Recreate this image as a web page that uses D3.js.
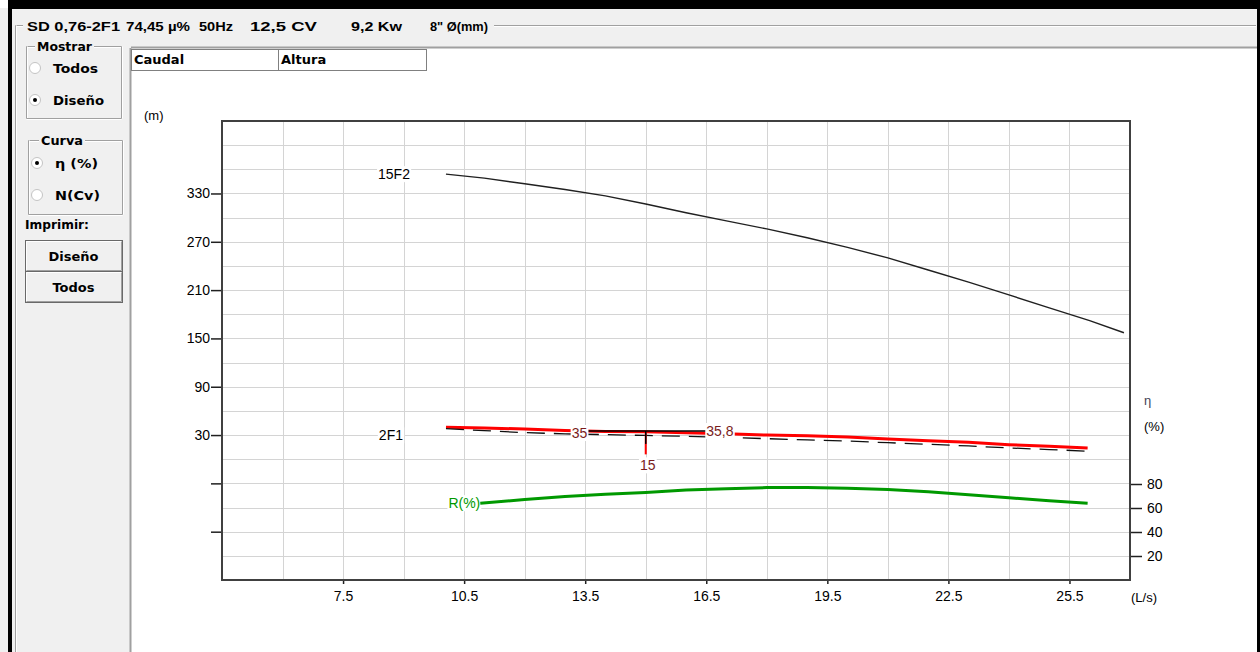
<!DOCTYPE html>
<html lang="es">
<head>
<meta charset="UTF-8">
<title>SD 0,76-2F1</title>
<style>
  body { margin: 0; background: #fff; }
  svg { display: block; }
  .ui { font-family: 'DejaVu Sans', sans-serif; font-weight: bold; font-size: 13px; fill: #000; }
  .hd { font-family: 'Liberation Sans', Arial, sans-serif; font-weight: bold; font-size: 13px; fill: #000; }
  .lbl { font-family: 'Liberation Sans', Arial, sans-serif; font-size: 14px; fill: #000; }
  .axis text { font-family: 'Liberation Sans', Arial, sans-serif; font-size: 14px; fill: #000; }
  .axis line { stroke: #202020; stroke-width: 1.5; }
  .axis path { display: none; }
</style>
<script src="https://d3js.org/d3.v7.min.js"></script>
</head>
<body>
<div id="chart"></div>
<script>
// ---- datos ----
const qTicks = [7.5, 10.5, 13.5, 16.5, 19.5, 22.5, 25.5];
const hTicks = [-90, -30, 30, 90, 150, 210, 270, 330];
const etaTicks = [20, 40, 60, 80];

// curva 15F2
const q15F2 = [10.05, 11, 12, 13, 14, 15, 16, 17, 18, 19, 20, 21, 22, 23, 24, 25, 26, 26.85];
const h15F2 = [354, 349, 342, 335, 327, 317, 306, 296, 286, 275, 263, 250, 235, 220, 204, 188, 172, 157];

// curva 2F1 (roja) y curva de diseño (negra punteada)
const q2F1 = [10.05, 11, 12, 13, 14, 15, 16, 17, 18, 19, 20, 21, 22, 23, 24, 25, 25.95];
const h2F1 = [39.6, 38.8, 37.5, 35.8, 34.5, 34, 33, 31.5, 30, 29, 27.5, 25, 23, 21, 18, 16, 13.8];
const hDesign = [38, 35.5, 33, 31.5, 30.5, 29.5, 28.5, 27, 25.5, 24, 22.5, 20.5, 18.5, 16.5, 14, 12, 10];

// rendimiento R(%)
const qEta = [10.9, 12, 13, 14, 15, 16, 17, 18, 19, 20, 21, 22, 23, 24, 25, 25.95];
const eta = [64, 67, 69.5, 71.5, 73, 75, 76, 77, 77, 76.5, 75.5, 73.5, 71, 68.5, 66, 64];

// punto de trabajo
const designQ = 15;
const designH = 35;
const designHLabel = "35";
const actualHLabel = "35,8";
const designQLabel = "15";

const headerParts = [
  { t: "SD 0,76-2F1", x: 27, w: 93 },
  { t: "74,45 µ%", x: 126, w: 64 },
  { t: "50Hz", x: 199, w: 34 },
  { t: "12,5 CV", x: 250, w: 67 },
  { t: "9,2 Kw", x: 351, w: 51 },
  { t: "8\" Ø(mm)", x: 430, w: 58 }
];

const svg = d3.select("#chart").append("svg")
  .attr("width", 1260).attr("height", 652);

// ---- ventana ----
svg.append("rect").attr("x", 0).attr("y", 0).attr("width", 1260).attr("height", 652).attr("fill", "#f0f0f0");
svg.append("rect").attr("x", 131).attr("y", 48).attr("width", 1126).attr("height", 604).attr("fill", "#fff");
svg.append("line").attr("x1", 130.5).attr("x2", 130.5).attr("y1", 48).attr("y2", 652).attr("stroke", "#a0a0a0").attr("stroke-width", 2);
svg.append("line").attr("x1", 131).attr("x2", 1257).attr("y1", 47.5).attr("y2", 47.5).attr("stroke", "#a0a0a0").attr("stroke-width", 2);
// bordes negros
svg.append("rect").attr("x", 0).attr("y", 0).attr("width", 8).attr("height", 8).attr("fill", "#fff");
svg.append("rect").attr("x", 8).attr("y", 0).attr("width", 1252).attr("height", 9).attr("fill", "#000");
svg.append("rect").attr("x", 8).attr("y", 9).attr("width", 4).attr("height", 643).attr("fill", "#000");
svg.append("rect").attr("x", 1257).attr("y", 0).attr("width", 3).attr("height", 652).attr("fill", "#000");

// lineas grabadas
const etched = (x1, y1, x2, y2) => {
  svg.append("line").attr("x1", x1).attr("y1", y1).attr("x2", x2).attr("y2", y2).attr("stroke", "#a0a0a0");
  svg.append("line").attr("x1", x1 + (x1 === x2 ? 1 : 0)).attr("y1", y1 + (y1 === y2 ? 1 : 0))
    .attr("x2", x2 + (x1 === x2 ? 1 : 0)).attr("y2", y2 + (y1 === y2 ? 1 : 0)).attr("stroke", "#fff");
};
etched(15.5, 25.5, 23, 25.5);
etched(494, 25.5, 1256, 25.5);
etched(15.5, 25.5, 15.5, 652);

headerParts.forEach(p => {
  svg.append("text").attr("class", "hd").attr("x", p.x).attr("y", 31)
    .attr("textLength", p.w).attr("lengthAdjust", "spacingAndGlyphs").text(p.t);
});

function groupBox(x, y, w, h, title, tx, tw) {
  etched(x + 0.5, y + 0.5, tx - 2, y + 0.5);
  etched(tx + tw + 2, y + 0.5, x + w + 0.5, y + 0.5);
  etched(x + 0.5, y + 0.5, x + 0.5, y + h + 0.5);
  etched(x + w + 0.5, y + 0.5, x + w + 0.5, y + h + 0.5);
  etched(x + 0.5, y + h + 0.5, x + w + 0.5, y + h + 0.5);
  svg.append("text").attr("class", "ui").attr("x", tx).attr("y", y + 5)
    .attr("textLength", tw).attr("lengthAdjust", "spacingAndGlyphs").text(title);
}
function radio(cx, cy, label, checked, w) {
  svg.append("circle").attr("cx", cx).attr("cy", cy).attr("r", 5.5)
    .attr("fill", "#fff").attr("stroke", "#c4c4c4");
  if (checked) svg.append("circle").attr("cx", cx).attr("cy", cy).attr("r", 2).attr("fill", "#000");
  svg.append("text").attr("class", "ui").attr("x", cx + 18).attr("y", cy + 5)
    .attr("textLength", w).attr("lengthAdjust", "spacingAndGlyphs").text(label);
}
function button(x, y, w, h, label) {
  svg.append("rect").attr("x", x + 0.5).attr("y", y + 0.5).attr("width", w).attr("height", h)
    .attr("fill", "#f0f0f0").attr("stroke", "#696969");
  svg.append("path").attr("d", `M${x + 1.5},${y + h - 1}V${y + 1.5}H${x + w - 1}`)
    .attr("fill", "none").attr("stroke", "#fff");
  svg.append("path").attr("d", `M${x + 1.5},${y + h - 0.5}H${x + w - 0.5}V${y + 1.5}`)
    .attr("fill", "none").attr("stroke", "#a0a0a0");
  svg.append("text").attr("class", "ui").attr("x", x + w / 2).attr("y", y + h / 2 + 5)
    .attr("text-anchor", "middle").text(label);
}

// grupo "Mostrar"
groupBox(26, 46, 95, 72, "Mostrar", 37, 55);
radio(35, 68, "Todos", false, 45);
radio(35, 100, "Diseño", true, 51);

// grupo "Curva"
groupBox(28, 140, 94, 74, "Curva", 41, 42);
radio(37, 163, "η (%)", true, 43);
radio(37, 195, "N(Cv)", false, 45);

svg.append("text").attr("class", "ui").attr("x", 25).attr("y", 229)
  .attr("textLength", 64).attr("lengthAdjust", "spacingAndGlyphs").text("Imprimir:");
button(25, 240, 97, 31, "Diseño");
button(25, 271, 97, 31, "Todos");

// caja Caudal / Altura
svg.append("rect").attr("x", 131.5).attr("y", 49.5).attr("width", 295).attr("height", 21)
  .attr("fill", "#fff").attr("stroke", "#808080");
svg.append("line").attr("x1", 278.5).attr("x2", 278.5).attr("y1", 50).attr("y2", 70).attr("stroke", "#808080");
svg.append("text").attr("class", "ui").attr("x", 134).attr("y", 64).text("Caudal");
svg.append("text").attr("class", "ui").attr("x", 281).attr("y", 64).text("Altura");

// ---- gráfico ----
const pLeft = 222, pRight = 1130, pTop = 121, pBottom = 580;
const x = d3.scaleLinear().domain([4.5, 27]).range([pLeft, pRight]);
const y = d3.scaleLinear().domain([-150, 420]).range([pBottom, pTop]);
const yEta = d3.scaleLinear().domain([0, 100]).range([pBottom, pBottom - 120]);

const grid = svg.append("g").attr("stroke", "#d4d4d4").attr("stroke-width", 1);
grid.selectAll(".gx").data(d3.range(6, 27, 1.5)).join("line")
  .attr("class", "gx")
  .attr("x1", d => Math.round(x(d)) + 0.5).attr("x2", d => Math.round(x(d)) + 0.5)
  .attr("y1", pTop).attr("y2", pBottom);
grid.selectAll(".gy").data(d3.range(-120, 420, 30)).join("line")
  .attr("class", "gy")
  .attr("y1", d => Math.round(y(d)) + 0.5).attr("y2", d => Math.round(y(d)) + 0.5)
  .attr("x1", pLeft).attr("x2", pRight);

svg.append("g").attr("class", "axis")
  .attr("transform", `translate(${pLeft},0)`)
  .call(d3.axisLeft(y).tickValues(hTicks).tickSize(11).tickPadding(1)
    .tickFormat(d => d > 0 ? d : ""));

svg.append("g").attr("class", "axis")
  .attr("transform", `translate(${pRight},0)`)
  .call(d3.axisRight(yEta).tickValues(etaTicks).tickSize(12).tickPadding(5));

svg.append("g").attr("class", "axis")
  .attr("transform", `translate(0,${pBottom})`)
  .call(d3.axisBottom(x).tickValues(qTicks).tickSize(4).tickPadding(7)
    .tickFormat(d3.format(".1f")));

svg.append("rect").attr("x", pLeft).attr("y", pTop).attr("width", pRight - pLeft).attr("height", pBottom - pTop)
  .attr("fill", "none").attr("stroke", "#404040").attr("stroke-width", 2);

svg.append("text").attr("class", "lbl").attr("x", 144).attr("y", 120).text("(m)").style("font-size", "13px");
svg.append("text").attr("class", "lbl").attr("x", 1144).attr("y", 405).style("fill", "#445").text("η").style("font-size", "13px");
svg.append("text").attr("class", "lbl").attr("x", 1144).attr("y", 431).text("(%)").style("font-size", "13px");
svg.append("text").attr("class", "lbl").attr("x", 1131).attr("y", 602).text("(L/s)").style("font-size", "13px");

// texto con fondo blanco (como en la pantalla original)
const layerBg = svg.append("g");
const layerLines = svg.append("g");
const layerText = svg.append("g");
function label(px, py, txt, anchor, color, opaque) {
  const t = layerText.append("text").attr("class", "lbl").attr("x", px).attr("y", py)
    .attr("text-anchor", anchor).style("fill", color).text(txt);
  const b = t.node().getBBox();
  (opaque ? layerText : layerBg).insert("rect", opaque ? "text:last-child" : null)
    .attr("x", b.x - 1).attr("y", b.y).attr("width", b.width + 2).attr("height", b.height)
    .attr("fill", "#fff");
  return t;
}

const lineH = d3.line().x(d => x(d[0])).y(d => y(d[1]));

// 15F2
layerLines.append("path").datum(d3.zip(q15F2, h15F2)).attr("d", lineH)
  .attr("fill", "none").attr("stroke", "#202020").attr("stroke-width", 1.4);
label(x(q15F2[0]) - 36, y(h15F2[0]) + 5, "15F2", "end", "#000", false);

// 2F1 roja
layerLines.append("path").datum(d3.zip(q2F1, h2F1)).attr("d", lineH)
  .attr("fill", "none").attr("stroke", "#ff0000").attr("stroke-width", 3);
// diseño punteada
layerLines.append("path").datum(d3.zip(q2F1, hDesign)).attr("d", lineH)
  .attr("fill", "none").attr("stroke", "#101010").attr("stroke-width", 1.3)
  .attr("stroke-dasharray", "18,9");
label(x(q2F1[0]) - 43, y(h2F1[0]) + 13, "2F1", "end", "#000", false);

// punto de trabajo
layerLines.append("line").attr("x1", x(designQ)).attr("x2", x(designQ))
  .attr("y1", y(designH)).attr("y2", y(designH - 29)).attr("stroke", "#ff0000").attr("stroke-width", 2);
layerLines.append("line").attr("x1", x(designQ)).attr("x2", x(designQ))
  .attr("y1", y(designH)).attr("y2", y(designH - 16)).attr("stroke", "#000").attr("stroke-width", 1.5);
layerLines.append("line").attr("x1", x(13.55)).attr("x2", x(16.5))
  .attr("y1", y(designH)).attr("y2", y(designH)).attr("stroke", "#000").attr("stroke-width", 1.5);

// R(%)
const lineEta = d3.line().x(d => x(d[0])).y(d => yEta(d[1]));
layerLines.append("path").datum(d3.zip(qEta, eta)).attr("d", lineEta)
  .attr("fill", "none").attr("stroke", "#009900").attr("stroke-width", 3);
label(x(qEta[0]), yEta(eta[0]) + 5, "R(%)", "end", "#009900", false);

label(x(13.55), y(designH) + 7, designHLabel, "end", "#7a1c1c", true);
label(x(16.5), y(designH) + 5, actualHLabel, "start", "#7a1c1c", true);
label(x(designQ) + 2, y(designH - 29) + 16, designQLabel, "middle", "#7a1c1c", true);
</script>
</body>
</html>
